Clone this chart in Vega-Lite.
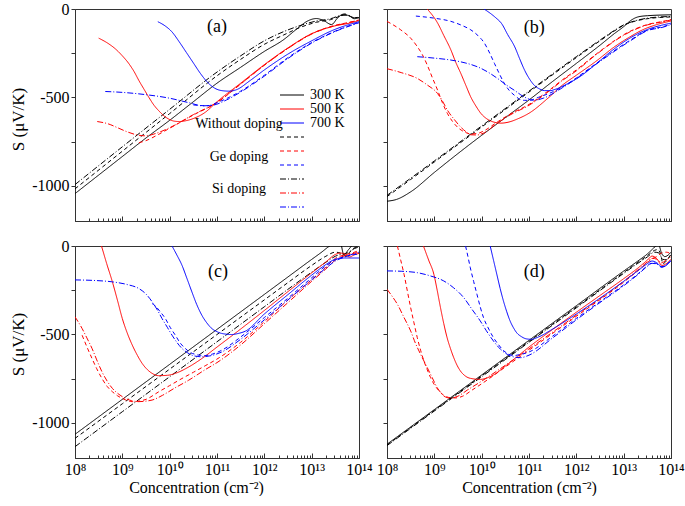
{
"$schema": "https://vega.github.io/schema/vega-lite/v6.json",
"padding": {"left": 8, "top": 0, "right": 0, "bottom": 0},
"background": "white",
"config": {
  "font": "Liberation Serif",
  "view": {"stroke": "#333", "strokeWidth": 1},
  "axis": {"grid": false, "domainColor": "#333", "tickColor": "#333", "labelColor": "#000", "titleColor": "#000", "labelFont": "Liberation Serif", "titleFont": "Liberation Serif", "labelFontSize": 16, "titleFontSize": 16, "titleFontWeight": "normal", "labelOverlap": false, "labelFlush": false},
  "legend": {"labelFont": "Liberation Serif", "labelFontSize": 14, "labelColor": "#000"}
},
"datasets": {"pts": [
{"p":"a","t":"300 K","d":"N","c":1e8,"s":-1045},{"p":"a","t":"300 K","d":"N","c":3.162e8,"s":-940},{"p":"a","t":"300 K","d":"N","c":1e9,"s":-835},{"p":"a","t":"300 K","d":"N","c":3.162e9,"s":-730},{"p":"a","t":"300 K","d":"N","c":1e10,"s":-630},{"p":"a","t":"300 K","d":"N","c":3.162e10,"s":-525},{"p":"a","t":"300 K","d":"N","c":1e11,"s":-420},{"p":"a","t":"300 K","d":"N","c":3.162e11,"s":-330},{"p":"a","t":"300 K","d":"N","c":1e12,"s":-240},{"p":"a","t":"300 K","d":"N","c":2.512e12,"s":-175},{"p":"a","t":"300 K","d":"N","c":5.012e12,"s":-110},{"p":"a","t":"300 K","d":"N","c":7.943e12,"s":-70},{"p":"a","t":"300 K","d":"N","c":1.259e13,"s":-54},{"p":"a","t":"300 K","d":"N","c":1.778e13,"s":-65},{"p":"a","t":"300 K","d":"N","c":2.63e13,"s":-88},{"p":"a","t":"300 K","d":"N","c":3.548e13,"s":-50},{"p":"a","t":"300 K","d":"N","c":4.571e13,"s":-30},{"p":"a","t":"300 K","d":"N","c":6.31e13,"s":-40},{"p":"a","t":"300 K","d":"N","c":7.943e13,"s":-55},{"p":"a","t":"300 K","d":"N","c":1e14,"s":-48},
{"p":"a","t":"300 K","d":"Ge","c":1e8,"s":-1018},{"p":"a","t":"300 K","d":"Ge","c":1e9,"s":-805},{"p":"a","t":"300 K","d":"Ge","c":1e10,"s":-592},{"p":"a","t":"300 K","d":"Ge","c":1e11,"s":-378},{"p":"a","t":"300 K","d":"Ge","c":3.162e11,"s":-285},{"p":"a","t":"300 K","d":"Ge","c":1e12,"s":-200},{"p":"a","t":"300 K","d":"Ge","c":2.512e12,"s":-148},{"p":"a","t":"300 K","d":"Ge","c":6.31e12,"s":-100},{"p":"a","t":"300 K","d":"Ge","c":1.259e13,"s":-75},{"p":"a","t":"300 K","d":"Ge","c":2.512e13,"s":-60},{"p":"a","t":"300 K","d":"Ge","c":3.981e13,"s":-40},{"p":"a","t":"300 K","d":"Ge","c":5.012e13,"s":-28},{"p":"a","t":"300 K","d":"Ge","c":7.079e13,"s":-45},{"p":"a","t":"300 K","d":"Ge","c":1e14,"s":-50},
{"p":"a","t":"300 K","d":"Si","c":1e8,"s":-994},{"p":"a","t":"300 K","d":"Si","c":1e9,"s":-780},{"p":"a","t":"300 K","d":"Si","c":1e10,"s":-568},{"p":"a","t":"300 K","d":"Si","c":1e11,"s":-357},{"p":"a","t":"300 K","d":"Si","c":3.162e11,"s":-265},{"p":"a","t":"300 K","d":"Si","c":1e12,"s":-180},{"p":"a","t":"300 K","d":"Si","c":2.512e12,"s":-129},{"p":"a","t":"300 K","d":"Si","c":6.31e12,"s":-90},{"p":"a","t":"300 K","d":"Si","c":1.259e13,"s":-68},{"p":"a","t":"300 K","d":"Si","c":2.512e13,"s":-55},{"p":"a","t":"300 K","d":"Si","c":3.981e13,"s":-38},{"p":"a","t":"300 K","d":"Si","c":5.623e13,"s":-35},{"p":"a","t":"300 K","d":"Si","c":7.943e13,"s":-50},{"p":"a","t":"300 K","d":"Si","c":1e14,"s":-45},
{"p":"a","t":"500 K","d":"N","c":3.162e8,"s":-165},{"p":"a","t":"500 K","d":"N","c":5.012e8,"s":-195},{"p":"a","t":"500 K","d":"N","c":7.079e8,"s":-225},{"p":"a","t":"500 K","d":"N","c":1e9,"s":-265},{"p":"a","t":"500 K","d":"N","c":1.38e9,"s":-310},{"p":"a","t":"500 K","d":"N","c":1.778e9,"s":-355},{"p":"a","t":"500 K","d":"N","c":2.239e9,"s":-405},{"p":"a","t":"500 K","d":"N","c":2.884e9,"s":-455},{"p":"a","t":"500 K","d":"N","c":3.631e9,"s":-500},{"p":"a","t":"500 K","d":"N","c":4.677e9,"s":-545},{"p":"a","t":"500 K","d":"N","c":5.888e9,"s":-576},{"p":"a","t":"500 K","d":"N","c":7.586e9,"s":-605},{"p":"a","t":"500 K","d":"N","c":9.55e9,"s":-623},{"p":"a","t":"500 K","d":"N","c":1.259e10,"s":-635},{"p":"a","t":"500 K","d":"N","c":1.585e10,"s":-637},{"p":"a","t":"500 K","d":"N","c":2.239e10,"s":-632},{"p":"a","t":"500 K","d":"N","c":3.162e10,"s":-620},{"p":"a","t":"500 K","d":"N","c":5.623e10,"s":-585},{"p":"a","t":"500 K","d":"N","c":1e11,"s":-525},{"p":"a","t":"500 K","d":"N","c":3.162e11,"s":-420},{"p":"a","t":"500 K","d":"N","c":1e12,"s":-315},{"p":"a","t":"500 K","d":"N","c":3.162e12,"s":-220},{"p":"a","t":"500 K","d":"N","c":1e13,"s":-140},{"p":"a","t":"500 K","d":"N","c":3.162e13,"s":-95},{"p":"a","t":"500 K","d":"N","c":6.31e13,"s":-80},{"p":"a","t":"500 K","d":"N","c":1e14,"s":-66},
{"p":"a","t":"500 K","d":"Ge","c":2.239e9,"s":-757},{"p":"a","t":"500 K","d":"Ge","c":3.162e9,"s":-745},{"p":"a","t":"500 K","d":"Ge","c":5.623e9,"s":-712},{"p":"a","t":"500 K","d":"Ge","c":1e10,"s":-675},{"p":"a","t":"500 K","d":"Ge","c":3.162e10,"s":-600},{"p":"a","t":"500 K","d":"Ge","c":1e11,"s":-530},{"p":"a","t":"500 K","d":"Ge","c":3.162e11,"s":-425},{"p":"a","t":"500 K","d":"Ge","c":1e12,"s":-318},{"p":"a","t":"500 K","d":"Ge","c":3.162e12,"s":-222},{"p":"a","t":"500 K","d":"Ge","c":1e13,"s":-140},{"p":"a","t":"500 K","d":"Ge","c":3.162e13,"s":-92},{"p":"a","t":"500 K","d":"Ge","c":6.31e13,"s":-75},{"p":"a","t":"500 K","d":"Ge","c":1e14,"s":-62},
{"p":"a","t":"500 K","d":"Si","c":2.951e8,"s":-637},{"p":"a","t":"500 K","d":"Si","c":5.012e8,"s":-650},{"p":"a","t":"500 K","d":"Si","c":7.943e8,"s":-672},{"p":"a","t":"500 K","d":"Si","c":1.259e9,"s":-695},{"p":"a","t":"500 K","d":"Si","c":1.995e9,"s":-712},{"p":"a","t":"500 K","d":"Si","c":3.162e9,"s":-718},{"p":"a","t":"500 K","d":"Si","c":5.012e9,"s":-705},{"p":"a","t":"500 K","d":"Si","c":1e10,"s":-672},{"p":"a","t":"500 K","d":"Si","c":3.162e10,"s":-598},{"p":"a","t":"500 K","d":"Si","c":1e11,"s":-528},{"p":"a","t":"500 K","d":"Si","c":3.162e11,"s":-424},{"p":"a","t":"500 K","d":"Si","c":1e12,"s":-318},{"p":"a","t":"500 K","d":"Si","c":3.162e12,"s":-223},{"p":"a","t":"500 K","d":"Si","c":1e13,"s":-142},{"p":"a","t":"500 K","d":"Si","c":3.162e13,"s":-94},{"p":"a","t":"500 K","d":"Si","c":6.31e13,"s":-76},{"p":"a","t":"500 K","d":"Si","c":1e14,"s":-63},
{"p":"a","t":"700 K","d":"N","c":5.623e9,"s":-72},{"p":"a","t":"700 K","d":"N","c":7.943e9,"s":-95},{"p":"a","t":"700 K","d":"N","c":1.122e10,"s":-130},{"p":"a","t":"700 K","d":"N","c":1.585e10,"s":-185},{"p":"a","t":"700 K","d":"N","c":2.239e10,"s":-245},{"p":"a","t":"700 K","d":"N","c":3.162e10,"s":-305},{"p":"a","t":"700 K","d":"N","c":4.467e10,"s":-365},{"p":"a","t":"700 K","d":"N","c":6.31e10,"s":-415},{"p":"a","t":"700 K","d":"N","c":8.913e10,"s":-448},{"p":"a","t":"700 K","d":"N","c":1.259e11,"s":-462},{"p":"a","t":"700 K","d":"N","c":1.778e11,"s":-465},{"p":"a","t":"700 K","d":"N","c":2.512e11,"s":-458},{"p":"a","t":"700 K","d":"N","c":5.012e11,"s":-405},{"p":"a","t":"700 K","d":"N","c":1e12,"s":-345},{"p":"a","t":"700 K","d":"N","c":3.162e12,"s":-255},{"p":"a","t":"700 K","d":"N","c":1e13,"s":-180},{"p":"a","t":"700 K","d":"N","c":2.818e13,"s":-120},{"p":"a","t":"700 K","d":"N","c":1e14,"s":-72},
{"p":"a","t":"700 K","d":"Ge","c":3.162e10,"s":-543},{"p":"a","t":"700 K","d":"Ge","c":6.31e10,"s":-548},{"p":"a","t":"700 K","d":"Ge","c":1e11,"s":-530},{"p":"a","t":"700 K","d":"Ge","c":3.162e11,"s":-465},{"p":"a","t":"700 K","d":"Ge","c":1e12,"s":-375},{"p":"a","t":"700 K","d":"Ge","c":3.162e12,"s":-275},{"p":"a","t":"700 K","d":"Ge","c":1e13,"s":-190},{"p":"a","t":"700 K","d":"Ge","c":3.162e13,"s":-125},{"p":"a","t":"700 K","d":"Ge","c":1e14,"s":-76},
{"p":"a","t":"700 K","d":"Si","c":4.365e8,"s":-467},{"p":"a","t":"700 K","d":"Si","c":1e9,"s":-472},{"p":"a","t":"700 K","d":"Si","c":3.162e9,"s":-485},{"p":"a","t":"700 K","d":"Si","c":1e10,"s":-505},{"p":"a","t":"700 K","d":"Si","c":2.512e10,"s":-530},{"p":"a","t":"700 K","d":"Si","c":5.012e10,"s":-548},{"p":"a","t":"700 K","d":"Si","c":7.943e10,"s":-545},{"p":"a","t":"700 K","d":"Si","c":1.585e11,"s":-515},{"p":"a","t":"700 K","d":"Si","c":3.162e11,"s":-470},{"p":"a","t":"700 K","d":"Si","c":1e12,"s":-380},{"p":"a","t":"700 K","d":"Si","c":3.162e12,"s":-280},{"p":"a","t":"700 K","d":"Si","c":1e13,"s":-193},{"p":"a","t":"700 K","d":"Si","c":3.162e13,"s":-127},{"p":"a","t":"700 K","d":"Si","c":1e14,"s":-78},

{"p":"b","t":"300 K","d":"N","c":1e8,"s":-1088},{"p":"b","t":"300 K","d":"N","c":1.585e8,"s":-1078},{"p":"b","t":"300 K","d":"N","c":3.162e8,"s":-1035},{"p":"b","t":"300 K","d":"N","c":1e9,"s":-925},{"p":"b","t":"300 K","d":"N","c":3.162e9,"s":-818},{"p":"b","t":"300 K","d":"N","c":1e10,"s":-715},{"p":"b","t":"300 K","d":"N","c":3.162e10,"s":-615},{"p":"b","t":"300 K","d":"N","c":1e11,"s":-515},{"p":"b","t":"300 K","d":"N","c":3.162e11,"s":-410},{"p":"b","t":"300 K","d":"N","c":1e12,"s":-308},{"p":"b","t":"300 K","d":"N","c":3.162e12,"s":-205},{"p":"b","t":"300 K","d":"N","c":6.31e12,"s":-140},{"p":"b","t":"300 K","d":"N","c":1e13,"s":-100},{"p":"b","t":"300 K","d":"N","c":1.413e13,"s":-65},{"p":"b","t":"300 K","d":"N","c":1.995e13,"s":-45},{"p":"b","t":"300 K","d":"N","c":3.162e13,"s":-38},{"p":"b","t":"300 K","d":"N","c":1e14,"s":-33},
{"p":"b","t":"300 K","d":"Ge","c":1e8,"s":-1062},{"p":"b","t":"300 K","d":"Ge","c":3.162e8,"s":-965},{"p":"b","t":"300 K","d":"Ge","c":1e9,"s":-866},{"p":"b","t":"300 K","d":"Ge","c":1e10,"s":-668},{"p":"b","t":"300 K","d":"Ge","c":1e11,"s":-470},{"p":"b","t":"300 K","d":"Ge","c":1e12,"s":-275},{"p":"b","t":"300 K","d":"Ge","c":3.162e12,"s":-180},{"p":"b","t":"300 K","d":"Ge","c":6.31e12,"s":-125},{"p":"b","t":"300 K","d":"Ge","c":1e13,"s":-92},{"p":"b","t":"300 K","d":"Ge","c":1.585e13,"s":-72},{"p":"b","t":"300 K","d":"Ge","c":3.162e13,"s":-55},{"p":"b","t":"300 K","d":"Ge","c":1e14,"s":-45},
{"p":"b","t":"300 K","d":"Si","c":1e8,"s":-1055},{"p":"b","t":"300 K","d":"Si","c":3.162e8,"s":-958},{"p":"b","t":"300 K","d":"Si","c":1e9,"s":-860},{"p":"b","t":"300 K","d":"Si","c":1e10,"s":-662},{"p":"b","t":"300 K","d":"Si","c":1e11,"s":-465},{"p":"b","t":"300 K","d":"Si","c":1e12,"s":-270},{"p":"b","t":"300 K","d":"Si","c":3.162e12,"s":-176},{"p":"b","t":"300 K","d":"Si","c":6.31e12,"s":-122},{"p":"b","t":"300 K","d":"Si","c":1e13,"s":-90},{"p":"b","t":"300 K","d":"Si","c":1.585e13,"s":-70},{"p":"b","t":"300 K","d":"Si","c":3.162e13,"s":-52},{"p":"b","t":"300 K","d":"Si","c":1e14,"s":-42},
{"p":"b","t":"500 K","d":"N","c":7.079e8,"s":0},{"p":"b","t":"500 K","d":"N","c":1.175e9,"s":-80},{"p":"b","t":"500 K","d":"N","c":1.585e9,"s":-150},{"p":"b","t":"500 K","d":"N","c":2.239e9,"s":-232},{"p":"b","t":"500 K","d":"N","c":2.818e9,"s":-300},{"p":"b","t":"500 K","d":"N","c":3.631e9,"s":-365},{"p":"b","t":"500 K","d":"N","c":4.677e9,"s":-435},{"p":"b","t":"500 K","d":"N","c":5.888e9,"s":-498},{"p":"b","t":"500 K","d":"N","c":7.586e9,"s":-550},{"p":"b","t":"500 K","d":"N","c":9.772e9,"s":-593},{"p":"b","t":"500 K","d":"N","c":1.259e10,"s":-620},{"p":"b","t":"500 K","d":"N","c":1.585e10,"s":-635},{"p":"b","t":"500 K","d":"N","c":2.57e10,"s":-646},{"p":"b","t":"500 K","d":"N","c":3.981e10,"s":-638},{"p":"b","t":"500 K","d":"N","c":5.754e10,"s":-622},{"p":"b","t":"500 K","d":"N","c":1e11,"s":-590},{"p":"b","t":"500 K","d":"N","c":2.512e11,"s":-505},{"p":"b","t":"500 K","d":"N","c":5.129e11,"s":-430},{"p":"b","t":"500 K","d":"N","c":1e12,"s":-375},{"p":"b","t":"500 K","d":"N","c":2.63e12,"s":-295},{"p":"b","t":"500 K","d":"N","c":6.31e12,"s":-215},{"p":"b","t":"500 K","d":"N","c":1.349e13,"s":-158},{"p":"b","t":"500 K","d":"N","c":2.512e13,"s":-118},{"p":"b","t":"500 K","d":"N","c":4.898e13,"s":-89},{"p":"b","t":"500 K","d":"N","c":1e14,"s":-68},
{"p":"b","t":"500 K","d":"Ge","c":1e8,"s":-70},{"p":"b","t":"500 K","d":"Ge","c":1.95e8,"s":-118},{"p":"b","t":"500 K","d":"Ge","c":3.162e8,"s":-165},{"p":"b","t":"500 K","d":"Ge","c":4.365e8,"s":-213},{"p":"b","t":"500 K","d":"Ge","c":5.623e8,"s":-260},{"p":"b","t":"500 K","d":"Ge","c":7.079e8,"s":-317},{"p":"b","t":"500 K","d":"Ge","c":9.12e8,"s":-390},{"p":"b","t":"500 K","d":"Ge","c":1.175e9,"s":-460},{"p":"b","t":"500 K","d":"Ge","c":1.479e9,"s":-530},{"p":"b","t":"500 K","d":"Ge","c":1.905e9,"s":-593},{"p":"b","t":"500 K","d":"Ge","c":2.399e9,"s":-635},{"p":"b","t":"500 K","d":"Ge","c":3.09e9,"s":-669},{"p":"b","t":"500 K","d":"Ge","c":4.266e9,"s":-695},{"p":"b","t":"500 K","d":"Ge","c":5.888e9,"s":-707},{"p":"b","t":"500 K","d":"Ge","c":7.943e9,"s":-705},{"p":"b","t":"500 K","d":"Ge","c":1.148e10,"s":-688},{"p":"b","t":"500 K","d":"Ge","c":1.995e10,"s":-645},{"p":"b","t":"500 K","d":"Ge","c":3.981e10,"s":-595},{"p":"b","t":"500 K","d":"Ge","c":1e11,"s":-540},{"p":"b","t":"500 K","d":"Ge","c":2.512e11,"s":-465},{"p":"b","t":"500 K","d":"Ge","c":5.129e11,"s":-400},{"p":"b","t":"500 K","d":"Ge","c":1e12,"s":-345},{"p":"b","t":"500 K","d":"Ge","c":2.63e12,"s":-255},{"p":"b","t":"500 K","d":"Ge","c":1.349e13,"s":-127},{"p":"b","t":"500 K","d":"Ge","c":3.162e13,"s":-88},{"p":"b","t":"500 K","d":"Ge","c":6.761e13,"s":-70},{"p":"b","t":"500 K","d":"Ge","c":1e14,"s":-60},
{"p":"b","t":"500 K","d":"Si","c":1e8,"s":-338},{"p":"b","t":"500 K","d":"Si","c":1.995e8,"s":-360},{"p":"b","t":"500 K","d":"Si","c":4.365e8,"s":-393},{"p":"b","t":"500 K","d":"Si","c":7.079e8,"s":-430},{"p":"b","t":"500 K","d":"Si","c":1.175e9,"s":-479},{"p":"b","t":"500 K","d":"Si","c":1.514e9,"s":-525},{"p":"b","t":"500 K","d":"Si","c":1.905e9,"s":-574},{"p":"b","t":"500 K","d":"Si","c":2.63e9,"s":-625},{"p":"b","t":"500 K","d":"Si","c":3.631e9,"s":-669},{"p":"b","t":"500 K","d":"Si","c":4.677e9,"s":-695},{"p":"b","t":"500 K","d":"Si","c":5.888e9,"s":-712},{"p":"b","t":"500 K","d":"Si","c":7.943e9,"s":-713},{"p":"b","t":"500 K","d":"Si","c":1.148e10,"s":-700},{"p":"b","t":"500 K","d":"Si","c":1.995e10,"s":-652},{"p":"b","t":"500 K","d":"Si","c":3.981e10,"s":-600},{"p":"b","t":"500 K","d":"Si","c":1e11,"s":-545},{"p":"b","t":"500 K","d":"Si","c":2.512e11,"s":-470},{"p":"b","t":"500 K","d":"Si","c":5.129e11,"s":-404},{"p":"b","t":"500 K","d":"Si","c":1e12,"s":-350},{"p":"b","t":"500 K","d":"Si","c":2.63e12,"s":-258},{"p":"b","t":"500 K","d":"Si","c":1.349e13,"s":-130},{"p":"b","t":"500 K","d":"Si","c":3.162e13,"s":-90},{"p":"b","t":"500 K","d":"Si","c":6.761e13,"s":-72},{"p":"b","t":"500 K","d":"Si","c":1e14,"s":-62},
{"p":"b","t":"700 K","d":"N","c":1.122e10,"s":0},{"p":"b","t":"700 K","d":"N","c":1.585e10,"s":-28},{"p":"b","t":"700 K","d":"N","c":1.995e10,"s":-50},{"p":"b","t":"700 K","d":"N","c":2.63e10,"s":-82},{"p":"b","t":"700 K","d":"N","c":3.548e10,"s":-145},{"p":"b","t":"700 K","d":"N","c":5.012e10,"s":-215},{"p":"b","t":"700 K","d":"N","c":6.31e10,"s":-280},{"p":"b","t":"700 K","d":"N","c":8.128e10,"s":-348},{"p":"b","t":"700 K","d":"N","c":1.047e11,"s":-400},{"p":"b","t":"700 K","d":"N","c":1.318e11,"s":-434},{"p":"b","t":"700 K","d":"N","c":1.66e11,"s":-452},{"p":"b","t":"700 K","d":"N","c":2.138e11,"s":-462},{"p":"b","t":"700 K","d":"N","c":2.818e11,"s":-462},{"p":"b","t":"700 K","d":"N","c":3.548e11,"s":-455},{"p":"b","t":"700 K","d":"N","c":6.31e11,"s":-425},{"p":"b","t":"700 K","d":"N","c":1.175e12,"s":-384},{"p":"b","t":"700 K","d":"N","c":2.512e12,"s":-315},{"p":"b","t":"700 K","d":"N","c":5.888e12,"s":-232},{"p":"b","t":"700 K","d":"N","c":1.259e13,"s":-170},{"p":"b","t":"700 K","d":"N","c":3.02e13,"s":-118},{"p":"b","t":"700 K","d":"N","c":6.31e13,"s":-92},{"p":"b","t":"700 K","d":"N","c":1e14,"s":-80},
{"p":"b","t":"700 K","d":"Ge","c":4.074e8,"s":-40},{"p":"b","t":"700 K","d":"Ge","c":1e9,"s":-52},{"p":"b","t":"700 K","d":"Ge","c":2.239e9,"s":-70},{"p":"b","t":"700 K","d":"Ge","c":3.981e9,"s":-95},{"p":"b","t":"700 K","d":"Ge","c":5.888e9,"s":-118},{"p":"b","t":"700 K","d":"Ge","c":8.318e9,"s":-150},{"p":"b","t":"700 K","d":"Ge","c":1.148e10,"s":-194},{"p":"b","t":"700 K","d":"Ge","c":1.479e10,"s":-250},{"p":"b","t":"700 K","d":"Ge","c":1.862e10,"s":-308},{"p":"b","t":"700 K","d":"Ge","c":2.399e10,"s":-370},{"p":"b","t":"700 K","d":"Ge","c":3.02e10,"s":-422},{"p":"b","t":"700 K","d":"Ge","c":3.802e10,"s":-460},{"p":"b","t":"700 K","d":"Ge","c":4.898e10,"s":-488},{"p":"b","t":"700 K","d":"Ge","c":6.31e10,"s":-510},{"p":"b","t":"700 K","d":"Ge","c":7.943e10,"s":-517},{"p":"b","t":"700 K","d":"Ge","c":1e11,"s":-517},{"p":"b","t":"700 K","d":"Ge","c":1.585e11,"s":-500},{"p":"b","t":"700 K","d":"Ge","c":5.129e11,"s":-441},{"p":"b","t":"700 K","d":"Ge","c":1e12,"s":-390},{"p":"b","t":"700 K","d":"Ge","c":2.63e12,"s":-308},{"p":"b","t":"700 K","d":"Ge","c":1.349e13,"s":-178},{"p":"b","t":"700 K","d":"Ge","c":3.162e13,"s":-120},{"p":"b","t":"700 K","d":"Ge","c":6.761e13,"s":-100},{"p":"b","t":"700 K","d":"Ge","c":1e14,"s":-86},
{"p":"b","t":"700 K","d":"Si","c":4.365e8,"s":-270},{"p":"b","t":"700 K","d":"Si","c":1e9,"s":-278},{"p":"b","t":"700 K","d":"Si","c":2.239e9,"s":-289},{"p":"b","t":"700 K","d":"Si","c":4.467e9,"s":-305},{"p":"b","t":"700 K","d":"Si","c":8.128e9,"s":-327},{"p":"b","t":"700 K","d":"Si","c":1.413e10,"s":-360},{"p":"b","t":"700 K","d":"Si","c":2.188e10,"s":-394},{"p":"b","t":"700 K","d":"Si","c":3.311e10,"s":-430},{"p":"b","t":"700 K","d":"Si","c":4.898e10,"s":-460},{"p":"b","t":"700 K","d":"Si","c":7.943e10,"s":-498},{"p":"b","t":"700 K","d":"Si","c":1.288e11,"s":-517},{"p":"b","t":"700 K","d":"Si","c":1.995e11,"s":-505},{"p":"b","t":"700 K","d":"Si","c":5.129e11,"s":-445},{"p":"b","t":"700 K","d":"Si","c":1e12,"s":-394},{"p":"b","t":"700 K","d":"Si","c":2.63e12,"s":-312},{"p":"b","t":"700 K","d":"Si","c":1.349e13,"s":-182},{"p":"b","t":"700 K","d":"Si","c":3.162e13,"s":-123},{"p":"b","t":"700 K","d":"Si","c":6.761e13,"s":-103},{"p":"b","t":"700 K","d":"Si","c":1e14,"s":-88},

{"p":"c","t":"300 K","d":"N","c":1e8,"s":-1066},{"p":"c","t":"300 K","d":"N","c":1e9,"s":-868},{"p":"c","t":"300 K","d":"N","c":1e10,"s":-670},{"p":"c","t":"300 K","d":"N","c":1e11,"s":-472},{"p":"c","t":"300 K","d":"N","c":1e12,"s":-274},{"p":"c","t":"300 K","d":"N","c":3.162e12,"s":-175},{"p":"c","t":"300 K","d":"N","c":1e13,"s":-76},{"p":"c","t":"300 K","d":"N","c":1.585e13,"s":-37},{"p":"c","t":"300 K","d":"N","c":2.399e13,"s":0},{"p":"c","t":"300 K","d":"N","c":3.981e13,"s":25},{"p":"c","t":"300 K","d":"N","c":4.786e13,"s":-50},{"p":"c","t":"300 K","d":"N","c":6.026e13,"s":-20},{"p":"c","t":"300 K","d":"N","c":7.943e13,"s":10},{"p":"c","t":"300 K","d":"N","c":1e14,"s":5},
{"p":"c","t":"300 K","d":"Ge","c":1e8,"s":-1089},{"p":"c","t":"300 K","d":"Ge","c":1e9,"s":-893},{"p":"c","t":"300 K","d":"Ge","c":1e10,"s":-697},{"p":"c","t":"300 K","d":"Ge","c":1e11,"s":-501},{"p":"c","t":"300 K","d":"Ge","c":1e12,"s":-305},{"p":"c","t":"300 K","d":"Ge","c":3.162e12,"s":-207},{"p":"c","t":"300 K","d":"Ge","c":1e13,"s":-110},{"p":"c","t":"300 K","d":"Ge","c":1.995e13,"s":-58},{"p":"c","t":"300 K","d":"Ge","c":3.162e13,"s":-35},{"p":"c","t":"300 K","d":"Ge","c":4.467e13,"s":-45},{"p":"c","t":"300 K","d":"Ge","c":5.248e13,"s":-60},{"p":"c","t":"300 K","d":"Ge","c":7.079e13,"s":-20},{"p":"c","t":"300 K","d":"Ge","c":1e14,"s":0},
{"p":"c","t":"300 K","d":"Si","c":1e8,"s":-1136},{"p":"c","t":"300 K","d":"Si","c":1e9,"s":-938},{"p":"c","t":"300 K","d":"Si","c":1e10,"s":-740},{"p":"c","t":"300 K","d":"Si","c":1e11,"s":-542},{"p":"c","t":"300 K","d":"Si","c":1e12,"s":-344},{"p":"c","t":"300 K","d":"Si","c":3.162e12,"s":-245},{"p":"c","t":"300 K","d":"Si","c":1e13,"s":-148},{"p":"c","t":"300 K","d":"Si","c":1.995e13,"s":-92},{"p":"c","t":"300 K","d":"Si","c":3.162e13,"s":-58},{"p":"c","t":"300 K","d":"Si","c":4.467e13,"s":-45},{"p":"c","t":"300 K","d":"Si","c":5.623e13,"s":-40},{"p":"c","t":"300 K","d":"Si","c":7.943e13,"s":-15},{"p":"c","t":"300 K","d":"Si","c":1e14,"s":-5},
{"p":"c","t":"500 K","d":"N","c":3.631e8,"s":0},{"p":"c","t":"500 K","d":"N","c":4.677e8,"s":-100},{"p":"c","t":"500 K","d":"N","c":6.166e8,"s":-203},{"p":"c","t":"500 K","d":"N","c":7.943e8,"s":-310},{"p":"c","t":"500 K","d":"N","c":1e9,"s":-411},{"p":"c","t":"500 K","d":"N","c":1.259e9,"s":-490},{"p":"c","t":"500 K","d":"N","c":1.622e9,"s":-561},{"p":"c","t":"500 K","d":"N","c":2.089e9,"s":-620},{"p":"c","t":"500 K","d":"N","c":2.63e9,"s":-665},{"p":"c","t":"500 K","d":"N","c":3.388e9,"s":-700},{"p":"c","t":"500 K","d":"N","c":4.266e9,"s":-721},{"p":"c","t":"500 K","d":"N","c":5.754e9,"s":-734},{"p":"c","t":"500 K","d":"N","c":8.913e9,"s":-732},{"p":"c","t":"500 K","d":"N","c":1.318e10,"s":-721},{"p":"c","t":"500 K","d":"N","c":2.512e10,"s":-685},{"p":"c","t":"500 K","d":"N","c":4.786e10,"s":-637},{"p":"c","t":"500 K","d":"N","c":1e11,"s":-572},{"p":"c","t":"500 K","d":"N","c":3.162e11,"s":-470},{"p":"c","t":"500 K","d":"N","c":1e12,"s":-365},{"p":"c","t":"500 K","d":"N","c":3.162e12,"s":-258},{"p":"c","t":"500 K","d":"N","c":1e13,"s":-152},{"p":"c","t":"500 K","d":"N","c":1.995e13,"s":-90},{"p":"c","t":"500 K","d":"N","c":3.162e13,"s":-48},{"p":"c","t":"500 K","d":"N","c":3.981e13,"s":-40},{"p":"c","t":"500 K","d":"N","c":5.012e13,"s":-45},{"p":"c","t":"500 K","d":"N","c":6.31e13,"s":-62},{"p":"c","t":"500 K","d":"N","c":7.943e13,"s":-50},{"p":"c","t":"500 K","d":"N","c":1e14,"s":-42},
{"p":"c","t":"500 K","d":"Ge","c":1.413e8,"s":-505},{"p":"c","t":"500 K","d":"Ge","c":1.778e8,"s":-570},{"p":"c","t":"500 K","d":"Ge","c":2.291e8,"s":-637},{"p":"c","t":"500 K","d":"Ge","c":2.884e8,"s":-695},{"p":"c","t":"500 K","d":"Ge","c":3.715e8,"s":-750},{"p":"c","t":"500 K","d":"Ge","c":4.786e8,"s":-795},{"p":"c","t":"500 K","d":"Ge","c":6.166e8,"s":-825},{"p":"c","t":"500 K","d":"Ge","c":7.943e8,"s":-848},{"p":"c","t":"500 K","d":"Ge","c":1e9,"s":-863},{"p":"c","t":"500 K","d":"Ge","c":1.259e9,"s":-875},{"p":"c","t":"500 K","d":"Ge","c":1.622e9,"s":-881},{"p":"c","t":"500 K","d":"Ge","c":2.239e9,"s":-878},{"p":"c","t":"500 K","d":"Ge","c":3.162e9,"s":-868},{"p":"c","t":"500 K","d":"Ge","c":5.888e9,"s":-825},{"p":"c","t":"500 K","d":"Ge","c":1e10,"s":-790},{"p":"c","t":"500 K","d":"Ge","c":1.82e10,"s":-750},{"p":"c","t":"500 K","d":"Ge","c":3.162e10,"s":-715},{"p":"c","t":"500 K","d":"Ge","c":5.623e10,"s":-678},{"p":"c","t":"500 K","d":"Ge","c":1e11,"s":-640},{"p":"c","t":"500 K","d":"Ge","c":3.162e11,"s":-545},{"p":"c","t":"500 K","d":"Ge","c":1e12,"s":-428},{"p":"c","t":"500 K","d":"Ge","c":3.162e12,"s":-305},{"p":"c","t":"500 K","d":"Ge","c":1e13,"s":-190},{"p":"c","t":"500 K","d":"Ge","c":1.995e13,"s":-120},{"p":"c","t":"500 K","d":"Ge","c":3.162e13,"s":-70},{"p":"c","t":"500 K","d":"Ge","c":5.012e13,"s":-50},{"p":"c","t":"500 K","d":"Ge","c":7.079e13,"s":-40},{"p":"c","t":"500 K","d":"Ge","c":1e14,"s":-25},
{"p":"c","t":"500 K","d":"Si","c":1e8,"s":-401},{"p":"c","t":"500 K","d":"Si","c":1.413e8,"s":-467},{"p":"c","t":"500 K","d":"Si","c":1.778e8,"s":-520},{"p":"c","t":"500 K","d":"Si","c":2.291e8,"s":-580},{"p":"c","t":"500 K","d":"Si","c":2.884e8,"s":-645},{"p":"c","t":"500 K","d":"Si","c":3.715e8,"s":-712},{"p":"c","t":"500 K","d":"Si","c":4.786e8,"s":-765},{"p":"c","t":"500 K","d":"Si","c":6.166e8,"s":-806},{"p":"c","t":"500 K","d":"Si","c":8.511e8,"s":-840},{"p":"c","t":"500 K","d":"Si","c":1.175e9,"s":-863},{"p":"c","t":"500 K","d":"Si","c":1.585e9,"s":-876},{"p":"c","t":"500 K","d":"Si","c":2.239e9,"s":-881},{"p":"c","t":"500 K","d":"Si","c":3.162e9,"s":-878},{"p":"c","t":"500 K","d":"Si","c":4.266e9,"s":-872},{"p":"c","t":"500 K","d":"Si","c":7.079e9,"s":-845},{"p":"c","t":"500 K","d":"Si","c":1.259e10,"s":-805},{"p":"c","t":"500 K","d":"Si","c":2.512e10,"s":-760},{"p":"c","t":"500 K","d":"Si","c":5.623e10,"s":-700},{"p":"c","t":"500 K","d":"Si","c":1e11,"s":-660},{"p":"c","t":"500 K","d":"Si","c":3.162e11,"s":-560},{"p":"c","t":"500 K","d":"Si","c":1e12,"s":-440},{"p":"c","t":"500 K","d":"Si","c":3.162e12,"s":-320},{"p":"c","t":"500 K","d":"Si","c":1e13,"s":-200},{"p":"c","t":"500 K","d":"Si","c":1.995e13,"s":-130},{"p":"c","t":"500 K","d":"Si","c":3.162e13,"s":-80},{"p":"c","t":"500 K","d":"Si","c":5.012e13,"s":-55},{"p":"c","t":"500 K","d":"Si","c":7.079e13,"s":-45},{"p":"c","t":"500 K","d":"Si","c":1e14,"s":-35},
{"p":"c","t":"700 K","d":"N","c":1.122e10,"s":0},{"p":"c","t":"700 K","d":"N","c":1.413e10,"s":-50},{"p":"c","t":"700 K","d":"N","c":1.82e10,"s":-109},{"p":"c","t":"700 K","d":"N","c":2.291e10,"s":-180},{"p":"c","t":"700 K","d":"N","c":2.951e10,"s":-260},{"p":"c","t":"700 K","d":"N","c":3.715e10,"s":-330},{"p":"c","t":"700 K","d":"N","c":4.786e10,"s":-392},{"p":"c","t":"700 K","d":"N","c":6.166e10,"s":-437},{"p":"c","t":"700 K","d":"N","c":7.762e10,"s":-467},{"p":"c","t":"700 K","d":"N","c":1e11,"s":-485},{"p":"c","t":"700 K","d":"N","c":1.259e11,"s":-495},{"p":"c","t":"700 K","d":"N","c":2.042e11,"s":-501},{"p":"c","t":"700 K","d":"N","c":2.818e11,"s":-495},{"p":"c","t":"700 K","d":"N","c":3.981e11,"s":-482},{"p":"c","t":"700 K","d":"N","c":1e12,"s":-385},{"p":"c","t":"700 K","d":"N","c":3.162e12,"s":-275},{"p":"c","t":"700 K","d":"N","c":1e13,"s":-165},{"p":"c","t":"700 K","d":"N","c":1.995e13,"s":-105},{"p":"c","t":"700 K","d":"N","c":3.162e13,"s":-75},{"p":"c","t":"700 K","d":"N","c":5.012e13,"s":-68},{"p":"c","t":"700 K","d":"N","c":1e14,"s":-68},
{"p":"c","t":"700 K","d":"Ge","c":4.266e9,"s":-326},{"p":"c","t":"700 K","d":"Ge","c":5.012e9,"s":-340},{"p":"c","t":"700 K","d":"Ge","c":6.31e9,"s":-372},{"p":"c","t":"700 K","d":"Ge","c":8.128e9,"s":-411},{"p":"c","t":"700 K","d":"Ge","c":1.023e10,"s":-460},{"p":"c","t":"700 K","d":"Ge","c":1.318e10,"s":-505},{"p":"c","t":"700 K","d":"Ge","c":1.66e10,"s":-548},{"p":"c","t":"700 K","d":"Ge","c":2.138e10,"s":-580},{"p":"c","t":"700 K","d":"Ge","c":2.692e10,"s":-602},{"p":"c","t":"700 K","d":"Ge","c":3.467e10,"s":-613},{"p":"c","t":"700 K","d":"Ge","c":4.467e10,"s":-619},{"p":"c","t":"700 K","d":"Ge","c":5.623e10,"s":-620},{"p":"c","t":"700 K","d":"Ge","c":7.943e10,"s":-612},{"p":"c","t":"700 K","d":"Ge","c":1.259e11,"s":-590},{"p":"c","t":"700 K","d":"Ge","c":3.162e11,"s":-515},{"p":"c","t":"700 K","d":"Ge","c":1e12,"s":-405},{"p":"c","t":"700 K","d":"Ge","c":3.162e12,"s":-295},{"p":"c","t":"700 K","d":"Ge","c":1e13,"s":-180},{"p":"c","t":"700 K","d":"Ge","c":1.995e13,"s":-112},{"p":"c","t":"700 K","d":"Ge","c":3.162e13,"s":-78},{"p":"c","t":"700 K","d":"Ge","c":5.012e13,"s":-60},{"p":"c","t":"700 K","d":"Ge","c":1e14,"s":-45},
{"p":"c","t":"700 K","d":"Si","c":1e8,"s":-192},{"p":"c","t":"700 K","d":"Si","c":2.512e8,"s":-195},{"p":"c","t":"700 K","d":"Si","c":6.166e8,"s":-203},{"p":"c","t":"700 K","d":"Si","c":1.259e9,"s":-218},{"p":"c","t":"700 K","d":"Si","c":2.239e9,"s":-241},{"p":"c","t":"700 K","d":"Si","c":3.162e9,"s":-272},{"p":"c","t":"700 K","d":"Si","c":4.266e9,"s":-316},{"p":"c","t":"700 K","d":"Si","c":5.495e9,"s":-362},{"p":"c","t":"700 K","d":"Si","c":6.918e9,"s":-411},{"p":"c","t":"700 K","d":"Si","c":8.913e9,"s":-460},{"p":"c","t":"700 K","d":"Si","c":1.122e10,"s":-505},{"p":"c","t":"700 K","d":"Si","c":1.445e10,"s":-548},{"p":"c","t":"700 K","d":"Si","c":1.82e10,"s":-580},{"p":"c","t":"700 K","d":"Si","c":2.344e10,"s":-603},{"p":"c","t":"700 K","d":"Si","c":2.951e10,"s":-618},{"p":"c","t":"700 K","d":"Si","c":3.802e10,"s":-625},{"p":"c","t":"700 K","d":"Si","c":4.786e10,"s":-627},{"p":"c","t":"700 K","d":"Si","c":7.079e10,"s":-622},{"p":"c","t":"700 K","d":"Si","c":1.259e11,"s":-600},{"p":"c","t":"700 K","d":"Si","c":3.162e11,"s":-528},{"p":"c","t":"700 K","d":"Si","c":1e12,"s":-418},{"p":"c","t":"700 K","d":"Si","c":3.162e12,"s":-305},{"p":"c","t":"700 K","d":"Si","c":1e13,"s":-192},{"p":"c","t":"700 K","d":"Si","c":1.995e13,"s":-125},{"p":"c","t":"700 K","d":"Si","c":3.162e13,"s":-85},{"p":"c","t":"700 K","d":"Si","c":5.012e13,"s":-62},{"p":"c","t":"700 K","d":"Si","c":1e14,"s":-35},

{"p":"d","t":"300 K","d":"N","c":1e8,"s":-1122},{"p":"d","t":"300 K","d":"N","c":1e9,"s":-926},{"p":"d","t":"300 K","d":"N","c":1e10,"s":-730},{"p":"d","t":"300 K","d":"N","c":1e11,"s":-534},{"p":"d","t":"300 K","d":"N","c":1e12,"s":-338},{"p":"d","t":"300 K","d":"N","c":1e13,"s":-142},{"p":"d","t":"300 K","d":"N","c":1.995e13,"s":-85},{"p":"d","t":"300 K","d":"N","c":3.162e13,"s":-45},{"p":"d","t":"300 K","d":"N","c":4.169e13,"s":-15},{"p":"d","t":"300 K","d":"N","c":4.786e13,"s":0},{"p":"d","t":"300 K","d":"N","c":5.495e13,"s":5},{"p":"d","t":"300 K","d":"N","c":6.31e13,"s":-40},{"p":"d","t":"300 K","d":"N","c":7.413e13,"s":-60},{"p":"d","t":"300 K","d":"N","c":1e14,"s":-35},
{"p":"d","t":"300 K","d":"Ge","c":1e8,"s":-1126},{"p":"d","t":"300 K","d":"Ge","c":1e9,"s":-930},{"p":"d","t":"300 K","d":"Ge","c":1e10,"s":-735},{"p":"d","t":"300 K","d":"Ge","c":1e11,"s":-540},{"p":"d","t":"300 K","d":"Ge","c":1e12,"s":-345},{"p":"d","t":"300 K","d":"Ge","c":1e13,"s":-150},{"p":"d","t":"300 K","d":"Ge","c":1.995e13,"s":-92},{"p":"d","t":"300 K","d":"Ge","c":3.162e13,"s":-55},{"p":"d","t":"300 K","d":"Ge","c":4.467e13,"s":-25},{"p":"d","t":"300 K","d":"Ge","c":5.248e13,"s":-20},{"p":"d","t":"300 K","d":"Ge","c":6.026e13,"s":-45},{"p":"d","t":"300 K","d":"Ge","c":6.761e13,"s":-100},{"p":"d","t":"300 K","d":"Ge","c":7.943e13,"s":-85},{"p":"d","t":"300 K","d":"Ge","c":1e14,"s":-45},
{"p":"d","t":"300 K","d":"Si","c":1e8,"s":-1130},{"p":"d","t":"300 K","d":"Si","c":1e9,"s":-934},{"p":"d","t":"300 K","d":"Si","c":1e10,"s":-740},{"p":"d","t":"300 K","d":"Si","c":1e11,"s":-545},{"p":"d","t":"300 K","d":"Si","c":1e12,"s":-350},{"p":"d","t":"300 K","d":"Si","c":1e13,"s":-155},{"p":"d","t":"300 K","d":"Si","c":1.995e13,"s":-98},{"p":"d","t":"300 K","d":"Si","c":3.162e13,"s":-62},{"p":"d","t":"300 K","d":"Si","c":4.467e13,"s":-35},{"p":"d","t":"300 K","d":"Si","c":5.623e13,"s":-40},{"p":"d","t":"300 K","d":"Si","c":6.607e13,"s":-75},{"p":"d","t":"300 K","d":"Si","c":7.943e13,"s":-78},{"p":"d","t":"300 K","d":"Si","c":1e14,"s":-50},
{"p":"d","t":"500 K","d":"N","c":5.888e8,"s":0},{"p":"d","t":"500 K","d":"N","c":7.586e8,"s":-80},{"p":"d","t":"500 K","d":"N","c":9.772e8,"s":-160},{"p":"d","t":"500 K","d":"N","c":1.148e9,"s":-250},{"p":"d","t":"500 K","d":"N","c":1.349e9,"s":-349},{"p":"d","t":"500 K","d":"N","c":1.585e9,"s":-440},{"p":"d","t":"500 K","d":"N","c":1.862e9,"s":-519},{"p":"d","t":"500 K","d":"N","c":2.188e9,"s":-580},{"p":"d","t":"500 K","d":"N","c":2.57e9,"s":-632},{"p":"d","t":"500 K","d":"N","c":3.02e9,"s":-675},{"p":"d","t":"500 K","d":"N","c":3.548e9,"s":-707},{"p":"d","t":"500 K","d":"N","c":4.467e9,"s":-735},{"p":"d","t":"500 K","d":"N","c":5.754e9,"s":-749},{"p":"d","t":"500 K","d":"N","c":9.333e9,"s":-755},{"p":"d","t":"500 K","d":"N","c":1.259e10,"s":-748},{"p":"d","t":"500 K","d":"N","c":1.778e10,"s":-730},{"p":"d","t":"500 K","d":"N","c":3.162e10,"s":-680},{"p":"d","t":"500 K","d":"N","c":1e11,"s":-572},{"p":"d","t":"500 K","d":"N","c":3.162e11,"s":-472},{"p":"d","t":"500 K","d":"N","c":1e12,"s":-375},{"p":"d","t":"500 K","d":"N","c":3.162e12,"s":-280},{"p":"d","t":"500 K","d":"N","c":1e13,"s":-185},{"p":"d","t":"500 K","d":"N","c":1.995e13,"s":-125},{"p":"d","t":"500 K","d":"N","c":3.162e13,"s":-80},{"p":"d","t":"500 K","d":"N","c":3.981e13,"s":-57},{"p":"d","t":"500 K","d":"N","c":5.012e13,"s":-72},{"p":"d","t":"500 K","d":"N","c":6.457e13,"s":-110},{"p":"d","t":"500 K","d":"N","c":7.943e13,"s":-100},{"p":"d","t":"500 K","d":"N","c":1e14,"s":-75},
{"p":"d","t":"500 K","d":"Ge","c":1.66e8,"s":0},{"p":"d","t":"500 K","d":"Ge","c":1.95e8,"s":-80},{"p":"d","t":"500 K","d":"Ge","c":2.291e8,"s":-160},{"p":"d","t":"500 K","d":"Ge","c":2.692e8,"s":-255},{"p":"d","t":"500 K","d":"Ge","c":3.162e8,"s":-349},{"p":"d","t":"500 K","d":"Ge","c":3.715e8,"s":-435},{"p":"d","t":"500 K","d":"Ge","c":4.365e8,"s":-519},{"p":"d","t":"500 K","d":"Ge","c":5.129e8,"s":-590},{"p":"d","t":"500 K","d":"Ge","c":6.026e8,"s":-651},{"p":"d","t":"500 K","d":"Ge","c":7.079e8,"s":-700},{"p":"d","t":"500 K","d":"Ge","c":8.318e8,"s":-745},{"p":"d","t":"500 K","d":"Ge","c":1e9,"s":-785},{"p":"d","t":"500 K","d":"Ge","c":1.259e9,"s":-820},{"p":"d","t":"500 K","d":"Ge","c":1.585e9,"s":-845},{"p":"d","t":"500 K","d":"Ge","c":1.995e9,"s":-857},{"p":"d","t":"500 K","d":"Ge","c":2.818e9,"s":-860},{"p":"d","t":"500 K","d":"Ge","c":3.981e9,"s":-850},{"p":"d","t":"500 K","d":"Ge","c":6.31e9,"s":-815},{"p":"d","t":"500 K","d":"Ge","c":1e10,"s":-780},{"p":"d","t":"500 K","d":"Ge","c":3.162e10,"s":-685},{"p":"d","t":"500 K","d":"Ge","c":1e11,"s":-590},{"p":"d","t":"500 K","d":"Ge","c":1e12,"s":-398},{"p":"d","t":"500 K","d":"Ge","c":1e13,"s":-205},{"p":"d","t":"500 K","d":"Ge","c":1.995e13,"s":-140},{"p":"d","t":"500 K","d":"Ge","c":3.162e13,"s":-95},{"p":"d","t":"500 K","d":"Ge","c":3.981e13,"s":-72},{"p":"d","t":"500 K","d":"Ge","c":5.012e13,"s":-60},{"p":"d","t":"500 K","d":"Ge","c":6.31e13,"s":-40},{"p":"d","t":"500 K","d":"Ge","c":7.943e13,"s":-35},{"p":"d","t":"500 K","d":"Ge","c":1e14,"s":-45},
{"p":"d","t":"500 K","d":"Si","c":1e8,"s":-245},{"p":"d","t":"500 K","d":"Si","c":1.288e8,"s":-285},{"p":"d","t":"500 K","d":"Si","c":1.66e8,"s":-330},{"p":"d","t":"500 K","d":"Si","c":2.291e8,"s":-405},{"p":"d","t":"500 K","d":"Si","c":3.162e8,"s":-481},{"p":"d","t":"500 K","d":"Si","c":3.981e8,"s":-550},{"p":"d","t":"500 K","d":"Si","c":5.129e8,"s":-613},{"p":"d","t":"500 K","d":"Si","c":6.607e8,"s":-672},{"p":"d","t":"500 K","d":"Si","c":8.318e8,"s":-726},{"p":"d","t":"500 K","d":"Si","c":1e9,"s":-770},{"p":"d","t":"500 K","d":"Si","c":1.148e9,"s":-802},{"p":"d","t":"500 K","d":"Si","c":1.349e9,"s":-828},{"p":"d","t":"500 K","d":"Si","c":1.585e9,"s":-849},{"p":"d","t":"500 K","d":"Si","c":1.862e9,"s":-858},{"p":"d","t":"500 K","d":"Si","c":2.188e9,"s":-862},{"p":"d","t":"500 K","d":"Si","c":3.162e9,"s":-850},{"p":"d","t":"500 K","d":"Si","c":5.012e9,"s":-815},{"p":"d","t":"500 K","d":"Si","c":1e10,"s":-765},{"p":"d","t":"500 K","d":"Si","c":3.162e10,"s":-675},{"p":"d","t":"500 K","d":"Si","c":1e11,"s":-582},{"p":"d","t":"500 K","d":"Si","c":1e12,"s":-392},{"p":"d","t":"500 K","d":"Si","c":1e13,"s":-200},{"p":"d","t":"500 K","d":"Si","c":1.995e13,"s":-135},{"p":"d","t":"500 K","d":"Si","c":3.162e13,"s":-90},{"p":"d","t":"500 K","d":"Si","c":3.981e13,"s":-70},{"p":"d","t":"500 K","d":"Si","c":5.012e13,"s":-75},{"p":"d","t":"500 K","d":"Si","c":6.31e13,"s":-95},{"p":"d","t":"500 K","d":"Si","c":7.943e13,"s":-80},{"p":"d","t":"500 K","d":"Si","c":1e14,"s":-60},
{"p":"d","t":"700 K","d":"N","c":1.514e10,"s":0},{"p":"d","t":"700 K","d":"N","c":1.778e10,"s":-80},{"p":"d","t":"700 K","d":"N","c":2.089e10,"s":-160},{"p":"d","t":"700 K","d":"N","c":2.455e10,"s":-240},{"p":"d","t":"700 K","d":"N","c":2.884e10,"s":-311},{"p":"d","t":"700 K","d":"N","c":3.388e10,"s":-372},{"p":"d","t":"700 K","d":"N","c":3.981e10,"s":-424},{"p":"d","t":"700 K","d":"N","c":4.677e10,"s":-462},{"p":"d","t":"700 K","d":"N","c":5.495e10,"s":-491},{"p":"d","t":"700 K","d":"N","c":6.918e10,"s":-513},{"p":"d","t":"700 K","d":"N","c":8.913e10,"s":-526},{"p":"d","t":"700 K","d":"N","c":1.122e11,"s":-528},{"p":"d","t":"700 K","d":"N","c":1.585e11,"s":-515},{"p":"d","t":"700 K","d":"N","c":3.162e11,"s":-470},{"p":"d","t":"700 K","d":"N","c":1e12,"s":-385},{"p":"d","t":"700 K","d":"N","c":3.162e12,"s":-295},{"p":"d","t":"700 K","d":"N","c":1e13,"s":-200},{"p":"d","t":"700 K","d":"N","c":1.995e13,"s":-140},{"p":"d","t":"700 K","d":"N","c":3.162e13,"s":-100},{"p":"d","t":"700 K","d":"N","c":3.981e13,"s":-85},{"p":"d","t":"700 K","d":"N","c":5.012e13,"s":-95},{"p":"d","t":"700 K","d":"N","c":6.457e13,"s":-118},{"p":"d","t":"700 K","d":"N","c":7.943e13,"s":-110},{"p":"d","t":"700 K","d":"N","c":1e14,"s":-82},
{"p":"d","t":"700 K","d":"Ge","c":4.571e9,"s":0},{"p":"d","t":"700 K","d":"Ge","c":5.129e9,"s":-60},{"p":"d","t":"700 K","d":"Ge","c":5.754e9,"s":-123},{"p":"d","t":"700 K","d":"Ge","c":6.761e9,"s":-200},{"p":"d","t":"700 K","d":"Ge","c":7.943e9,"s":-273},{"p":"d","t":"700 K","d":"Ge","c":9.333e9,"s":-345},{"p":"d","t":"700 K","d":"Ge","c":1.096e10,"s":-406},{"p":"d","t":"700 K","d":"Ge","c":1.413e10,"s":-470},{"p":"d","t":"700 K","d":"Ge","c":1.778e10,"s":-519},{"p":"d","t":"700 K","d":"Ge","c":2.291e10,"s":-560},{"p":"d","t":"700 K","d":"Ge","c":2.951e10,"s":-594},{"p":"d","t":"700 K","d":"Ge","c":3.802e10,"s":-613},{"p":"d","t":"700 K","d":"Ge","c":4.786e10,"s":-620},{"p":"d","t":"700 K","d":"Ge","c":6.31e10,"s":-615},{"p":"d","t":"700 K","d":"Ge","c":1e11,"s":-600},{"p":"d","t":"700 K","d":"Ge","c":3.162e11,"s":-510},{"p":"d","t":"700 K","d":"Ge","c":1e12,"s":-410},{"p":"d","t":"700 K","d":"Ge","c":3.162e12,"s":-315},{"p":"d","t":"700 K","d":"Ge","c":1e13,"s":-220},{"p":"d","t":"700 K","d":"Ge","c":1.995e13,"s":-158},{"p":"d","t":"700 K","d":"Ge","c":3.162e13,"s":-112},{"p":"d","t":"700 K","d":"Ge","c":3.981e13,"s":-95},{"p":"d","t":"700 K","d":"Ge","c":5.012e13,"s":-100},{"p":"d","t":"700 K","d":"Ge","c":6.31e13,"s":-118},{"p":"d","t":"700 K","d":"Ge","c":7.943e13,"s":-105},{"p":"d","t":"700 K","d":"Ge","c":1e14,"s":-80},
{"p":"d","t":"700 K","d":"Si","c":1e8,"s":-141},{"p":"d","t":"700 K","d":"Si","c":1.995e8,"s":-143},{"p":"d","t":"700 K","d":"Si","c":4.365e8,"s":-151},{"p":"d","t":"700 K","d":"Si","c":7.943e8,"s":-168},{"p":"d","t":"700 K","d":"Si","c":1.585e9,"s":-198},{"p":"d","t":"700 K","d":"Si","c":2.512e9,"s":-235},{"p":"d","t":"700 K","d":"Si","c":4.169e9,"s":-292},{"p":"d","t":"700 K","d":"Si","c":6.31e9,"s":-360},{"p":"d","t":"700 K","d":"Si","c":9.333e9,"s":-424},{"p":"d","t":"700 K","d":"Si","c":1.259e10,"s":-480},{"p":"d","t":"700 K","d":"Si","c":1.778e10,"s":-538},{"p":"d","t":"700 K","d":"Si","c":2.512e10,"s":-585},{"p":"d","t":"700 K","d":"Si","c":3.467e10,"s":-613},{"p":"d","t":"700 K","d":"Si","c":4.786e10,"s":-628},{"p":"d","t":"700 K","d":"Si","c":6.607e10,"s":-632},{"p":"d","t":"700 K","d":"Si","c":1e11,"s":-618},{"p":"d","t":"700 K","d":"Si","c":3.162e11,"s":-520},{"p":"d","t":"700 K","d":"Si","c":1e12,"s":-418},{"p":"d","t":"700 K","d":"Si","c":3.162e12,"s":-320},{"p":"d","t":"700 K","d":"Si","c":1e13,"s":-225},{"p":"d","t":"700 K","d":"Si","c":1.995e13,"s":-162},{"p":"d","t":"700 K","d":"Si","c":3.162e13,"s":-115},{"p":"d","t":"700 K","d":"Si","c":3.981e13,"s":-98},{"p":"d","t":"700 K","d":"Si","c":5.012e13,"s":-102},{"p":"d","t":"700 K","d":"Si","c":6.31e13,"s":-120},{"p":"d","t":"700 K","d":"Si","c":7.943e13,"s":-108},{"p":"d","t":"700 K","d":"Si","c":1e14,"s":-82}
]},
"columns": 2,
"spacing": {"row": 25, "column": 28},
"bounds": "flush",
"concat": [
{
 "width": 284, "height": 212,
 "layer": [
 {
 "data": {"name": "pts"},
 "transform": [{"filter": "datum.p == 'a'"}, {"calculate": "datum.d + datum.t", "as": "k"}],
 "mark": {"type": "line", "clip": true, "strokeWidth": 1, "interpolate": "monotone"},
 "encoding": {
  "x": {"field": "c", "type": "quantitative", "scale": {"type": "log", "domain": [1e8, 1e14]}, "axis": {"values": [1e8,2e8,3e8,4e8,5e8,6e8,7e8,8e8,9e8,1e9,2e9,3e9,4e9,5e9,6e9,7e9,8e9,9e9,1e10,2e10,3e10,4e10,5e10,6e10,7e10,8e10,9e10,1e11,2e11,3e11,4e11,5e11,6e11,7e11,8e11,9e11,1e12,2e12,3e12,4e12,5e12,6e12,7e12,8e12,9e12,1e13,2e13,3e13,4e13,5e13,6e13,7e13,8e13,9e13,1e14], "labels": false, "title": null, "tickSize": {"condition": {"test": "indexof([1e8,1e9,1e10,1e11,1e12,1e13,1e14], datum.value) >= 0", "value": -5}, "value": -3}}},
  "y": {"field": "s", "type": "quantitative", "scale": {"domain": [-1200, 0], "nice": false, "zero": false}, "axis": {"values": [-1000,-750,-500,-250,0], "labelExpr": "datum.value % 500 == 0 ? '' + datum.value : ''", "tickSize": 4, "labelPadding": 2, "title": "S (μV/K)", "titleFontSize": 17, "titleX": -48, "titleY": 110, "titleAlign": "center", "titleAngle": -90}},
  "color": {"field": "k", "type": "nominal", "scale": {"domain": ["N300 K","N500 K","N700 K","Ge300 K","Ge500 K","Ge700 K","Si300 K","Si500 K","Si700 K"], "range": ["#000000","#ff0000","#0000ff","#000000","#ff0000","#0000ff","#000000","#ff0000","#0000ff"]}, "legend": {"orient": "none", "legendX": 210, "legendY": 79, "title": null, "symbolType": "M-2,0H2", "symbolSize": 144, "symbolStrokeWidth": 1, "labelOffset": 11, "rowPadding": -0.7, "labelExpr": "slice(datum.label,0,1) == 'N' ? slice(datum.label,1) : ''"}},
  "strokeDash": {"field": "k", "type": "nominal", "scale": {"domain": ["N300 K","N500 K","N700 K","Ge300 K","Ge500 K","Ge700 K","Si300 K","Si500 K","Si700 K"], "range": [[1,0],[1,0],[1,0],[4,3],[4,3],[4,3],[6,2,1,2],[6,2,1,2],[6,2,1,2]]}, "legend": {"orient": "none", "legendX": 210, "legendY": 79, "title": null, "symbolType": "M-2,0H2", "symbolSize": 144, "symbolStrokeWidth": 1, "labelOffset": 11, "rowPadding": -0.7, "labelExpr": "slice(datum.label,0,1) == 'N' ? slice(datum.label,1) : ''"}},
  "opacity": {"field": "d", "type": "ordinal", "scale": {"domain": ["N","Ge","Si"], "range": [1,1,1]}, "legend": {"orient": "none", "legendX": 120, "legendY": 108, "title": null, "symbolType": "M0,0", "symbolSize": 0, "symbolStrokeWidth": 0, "symbolOpacity": 0, "labelAlign": "center", "labelOffset": 30, "rowPadding": 18.5, "labelExpr": "datum.label == 'N' ? 'Without doping' : datum.label == 'Ge' ? 'Ge doping' : 'Si doping'"}}
 }
 },
 {"data": {"values": [{}]}, "mark": {"type": "text", "font": "Liberation Serif", "fontSize": 18, "align": "center", "baseline": "middle", "color": "#000"}, "encoding": {"x": {"datum": 1e11, "type": "quantitative"}, "y": {"datum": -100, "type": "quantitative"}, "text": {"value": "(a)"}}}
 ]
},
{
 "width": 284, "height": 212,
 "layer": [
 {
 "data": {"name": "pts"},
 "transform": [{"filter": "datum.p == 'b'"}, {"calculate": "datum.d + datum.t", "as": "k"}],
 "mark": {"type": "line", "clip": true, "strokeWidth": 1, "interpolate": "monotone"},
 "encoding": {
  "x": {"field": "c", "type": "quantitative", "scale": {"type": "log", "domain": [1e8, 1e14]}, "axis": {"values": [1e8,2e8,3e8,4e8,5e8,6e8,7e8,8e8,9e8,1e9,2e9,3e9,4e9,5e9,6e9,7e9,8e9,9e9,1e10,2e10,3e10,4e10,5e10,6e10,7e10,8e10,9e10,1e11,2e11,3e11,4e11,5e11,6e11,7e11,8e11,9e11,1e12,2e12,3e12,4e12,5e12,6e12,7e12,8e12,9e12,1e13,2e13,3e13,4e13,5e13,6e13,7e13,8e13,9e13,1e14], "labels": false, "title": null, "tickSize": {"condition": {"test": "indexof([1e8,1e9,1e10,1e11,1e12,1e13,1e14], datum.value) >= 0", "value": -5}, "value": -3}}},
  "y": {"field": "s", "type": "quantitative", "scale": {"domain": [-1200, 0], "nice": false, "zero": false}, "axis": {"values": [-1000,-750,-500,-250,0], "labels": false, "tickSize": 4, "title": null}},
  "color": {"field": "k", "type": "nominal", "scale": {"domain": ["N300 K","N500 K","N700 K","Ge300 K","Ge500 K","Ge700 K","Si300 K","Si500 K","Si700 K"], "range": ["#000000","#ff0000","#0000ff","#000000","#ff0000","#0000ff","#000000","#ff0000","#0000ff"]}, "legend": {"orient": "none", "legendX": 210, "legendY": 79, "title": null, "symbolType": "M-2,0H2", "symbolSize": 144, "symbolStrokeWidth": 1, "labelOffset": 11, "rowPadding": -0.7, "labelExpr": "slice(datum.label,0,1) == 'N' ? slice(datum.label,1) : ''"}},
  "strokeDash": {"field": "k", "type": "nominal", "scale": {"domain": ["N300 K","N500 K","N700 K","Ge300 K","Ge500 K","Ge700 K","Si300 K","Si500 K","Si700 K"], "range": [[1,0],[1,0],[1,0],[4,3],[4,3],[4,3],[6,2,1,2],[6,2,1,2],[6,2,1,2]]}, "legend": {"orient": "none", "legendX": 210, "legendY": 79, "title": null, "symbolType": "M-2,0H2", "symbolSize": 144, "symbolStrokeWidth": 1, "labelOffset": 11, "rowPadding": -0.7, "labelExpr": "slice(datum.label,0,1) == 'N' ? slice(datum.label,1) : ''"}},
  "opacity": {"field": "d", "type": "ordinal", "scale": {"domain": ["N","Ge","Si"], "range": [1,1,1]}, "legend": {"orient": "none", "legendX": 120, "legendY": 108, "title": null, "symbolType": "M0,0", "symbolSize": 0, "symbolStrokeWidth": 0, "symbolOpacity": 0, "labelAlign": "center", "labelOffset": 30, "rowPadding": 18.5, "labelExpr": "datum.label == 'N' ? 'Without doping' : datum.label == 'Ge' ? 'Ge doping' : 'Si doping'"}}
 }
 },
 {"data": {"values": [{}]}, "mark": {"type": "text", "font": "Liberation Serif", "fontSize": 18, "align": "center", "baseline": "middle", "color": "#000"}, "encoding": {"x": {"datum": 1.29e11, "type": "quantitative"}, "y": {"datum": -105, "type": "quantitative"}, "text": {"value": "(b)"}}}
 ]
},
{
 "width": 284, "height": 212,
 "layer": [
 {
 "data": {"name": "pts"},
 "transform": [{"filter": "datum.p == 'c'"}, {"calculate": "datum.d + datum.t", "as": "k"}],
 "mark": {"type": "line", "clip": true, "strokeWidth": 1, "interpolate": "monotone"},
 "encoding": {
  "x": {"field": "c", "type": "quantitative", "scale": {"type": "log", "domain": [1e8, 1e14]}, "axis": {"values": [1e8,2e8,3e8,4e8,5e8,6e8,7e8,8e8,9e8,1e9,2e9,3e9,4e9,5e9,6e9,7e9,8e9,9e9,1e10,2e10,3e10,4e10,5e10,6e10,7e10,8e10,9e10,1e11,2e11,3e11,4e11,5e11,6e11,7e11,8e11,9e11,1e12,2e12,3e12,4e12,5e12,6e12,7e12,8e12,9e12,1e13,2e13,3e13,4e13,5e13,6e13,7e13,8e13,9e13,1e14], "labelExpr": "datum.value == 1e8 ? '10⁸' : datum.value == 1e9 ? '10⁹' : datum.value == 1e10 ? '10¹⁰' : datum.value == 1e11 ? '10¹¹' : datum.value == 1e12 ? '10¹²' : datum.value == 1e13 ? '10¹³' : datum.value == 1e14 ? '10¹⁴' : ''", "labelPadding": 8, "title": "Concentration (cm⁻²)", "titleX": 121, "titlePadding": 0, "tickSize": {"condition": {"test": "indexof([1e8,1e9,1e10,1e11,1e12,1e13,1e14], datum.value) >= 0", "value": -5}, "value": -3}}},
  "y": {"field": "s", "type": "quantitative", "scale": {"domain": [-1200, 0], "nice": false, "zero": false}, "axis": {"values": [-1000,-750,-500,-250,0], "labelExpr": "datum.value % 500 == 0 ? '' + datum.value : ''", "tickSize": 4, "labelPadding": 2, "title": "S (μV/K)", "titleFontSize": 17, "titleX": -48, "titleY": 98, "titleAlign": "center", "titleAngle": -90}},
  "color": {"field": "k", "type": "nominal", "scale": {"domain": ["N300 K","N500 K","N700 K","Ge300 K","Ge500 K","Ge700 K","Si300 K","Si500 K","Si700 K"], "range": ["#000000","#ff0000","#0000ff","#000000","#ff0000","#0000ff","#000000","#ff0000","#0000ff"]}, "legend": {"orient": "none", "legendX": 210, "legendY": 79, "title": null, "symbolType": "M-2,0H2", "symbolSize": 144, "symbolStrokeWidth": 1, "labelOffset": 11, "rowPadding": -0.7, "labelExpr": "slice(datum.label,0,1) == 'N' ? slice(datum.label,1) : ''"}},
  "strokeDash": {"field": "k", "type": "nominal", "scale": {"domain": ["N300 K","N500 K","N700 K","Ge300 K","Ge500 K","Ge700 K","Si300 K","Si500 K","Si700 K"], "range": [[1,0],[1,0],[1,0],[4,3],[4,3],[4,3],[6,2,1,2],[6,2,1,2],[6,2,1,2]]}, "legend": {"orient": "none", "legendX": 210, "legendY": 79, "title": null, "symbolType": "M-2,0H2", "symbolSize": 144, "symbolStrokeWidth": 1, "labelOffset": 11, "rowPadding": -0.7, "labelExpr": "slice(datum.label,0,1) == 'N' ? slice(datum.label,1) : ''"}},
  "opacity": {"field": "d", "type": "ordinal", "scale": {"domain": ["N","Ge","Si"], "range": [1,1,1]}, "legend": {"orient": "none", "legendX": 120, "legendY": 108, "title": null, "symbolType": "M0,0", "symbolSize": 0, "symbolStrokeWidth": 0, "symbolOpacity": 0, "labelAlign": "center", "labelOffset": 30, "rowPadding": 18.5, "labelExpr": "datum.label == 'N' ? 'Without doping' : datum.label == 'Ge' ? 'Ge doping' : 'Si doping'"}}
 }
 },
 {"data": {"values": [{}]}, "mark": {"type": "text", "font": "Liberation Serif", "fontSize": 18, "align": "center", "baseline": "middle", "color": "#000"}, "encoding": {"x": {"datum": 1.05e11, "type": "quantitative"}, "y": {"datum": -145, "type": "quantitative"}, "text": {"value": "(c)"}}}
 ]
},
{
 "width": 284, "height": 212,
 "layer": [
 {
 "data": {"name": "pts"},
 "transform": [{"filter": "datum.p == 'd'"}, {"calculate": "datum.d + datum.t", "as": "k"}],
 "mark": {"type": "line", "clip": true, "strokeWidth": 1, "interpolate": "monotone"},
 "encoding": {
  "x": {"field": "c", "type": "quantitative", "scale": {"type": "log", "domain": [1e8, 1e14]}, "axis": {"values": [1e8,2e8,3e8,4e8,5e8,6e8,7e8,8e8,9e8,1e9,2e9,3e9,4e9,5e9,6e9,7e9,8e9,9e9,1e10,2e10,3e10,4e10,5e10,6e10,7e10,8e10,9e10,1e11,2e11,3e11,4e11,5e11,6e11,7e11,8e11,9e11,1e12,2e12,3e12,4e12,5e12,6e12,7e12,8e12,9e12,1e13,2e13,3e13,4e13,5e13,6e13,7e13,8e13,9e13,1e14], "labelExpr": "datum.value == 1e8 ? '10⁸' : datum.value == 1e9 ? '10⁹' : datum.value == 1e10 ? '10¹⁰' : datum.value == 1e11 ? '10¹¹' : datum.value == 1e12 ? '10¹²' : datum.value == 1e13 ? '10¹³' : datum.value == 1e14 ? '10¹⁴' : ''", "labelPadding": 8, "title": "Concentration (cm⁻²)", "titlePadding": 0, "tickSize": {"condition": {"test": "indexof([1e8,1e9,1e10,1e11,1e12,1e13,1e14], datum.value) >= 0", "value": -5}, "value": -3}}},
  "y": {"field": "s", "type": "quantitative", "scale": {"domain": [-1200, 0], "nice": false, "zero": false}, "axis": {"values": [-1000,-750,-500,-250,0], "labels": false, "tickSize": 4, "title": null}},
  "color": {"field": "k", "type": "nominal", "scale": {"domain": ["N300 K","N500 K","N700 K","Ge300 K","Ge500 K","Ge700 K","Si300 K","Si500 K","Si700 K"], "range": ["#000000","#ff0000","#0000ff","#000000","#ff0000","#0000ff","#000000","#ff0000","#0000ff"]}, "legend": {"orient": "none", "legendX": 210, "legendY": 79, "title": null, "symbolType": "M-2,0H2", "symbolSize": 144, "symbolStrokeWidth": 1, "labelOffset": 11, "rowPadding": -0.7, "labelExpr": "slice(datum.label,0,1) == 'N' ? slice(datum.label,1) : ''"}},
  "strokeDash": {"field": "k", "type": "nominal", "scale": {"domain": ["N300 K","N500 K","N700 K","Ge300 K","Ge500 K","Ge700 K","Si300 K","Si500 K","Si700 K"], "range": [[1,0],[1,0],[1,0],[4,3],[4,3],[4,3],[6,2,1,2],[6,2,1,2],[6,2,1,2]]}, "legend": {"orient": "none", "legendX": 210, "legendY": 79, "title": null, "symbolType": "M-2,0H2", "symbolSize": 144, "symbolStrokeWidth": 1, "labelOffset": 11, "rowPadding": -0.7, "labelExpr": "slice(datum.label,0,1) == 'N' ? slice(datum.label,1) : ''"}},
  "opacity": {"field": "d", "type": "ordinal", "scale": {"domain": ["N","Ge","Si"], "range": [1,1,1]}, "legend": {"orient": "none", "legendX": 120, "legendY": 108, "title": null, "symbolType": "M0,0", "symbolSize": 0, "symbolStrokeWidth": 0, "symbolOpacity": 0, "labelAlign": "center", "labelOffset": 30, "rowPadding": 18.5, "labelExpr": "datum.label == 'N' ? 'Without doping' : datum.label == 'Ge' ? 'Ge doping' : 'Si doping'"}}
 }
 },
 {"data": {"values": [{}]}, "mark": {"type": "text", "font": "Liberation Serif", "fontSize": 18, "align": "center", "baseline": "middle", "color": "#000"}, "encoding": {"x": {"datum": 1.29e11, "type": "quantitative"}, "y": {"datum": -145, "type": "quantitative"}, "text": {"value": "(d)"}}}
 ]
}
]
}
